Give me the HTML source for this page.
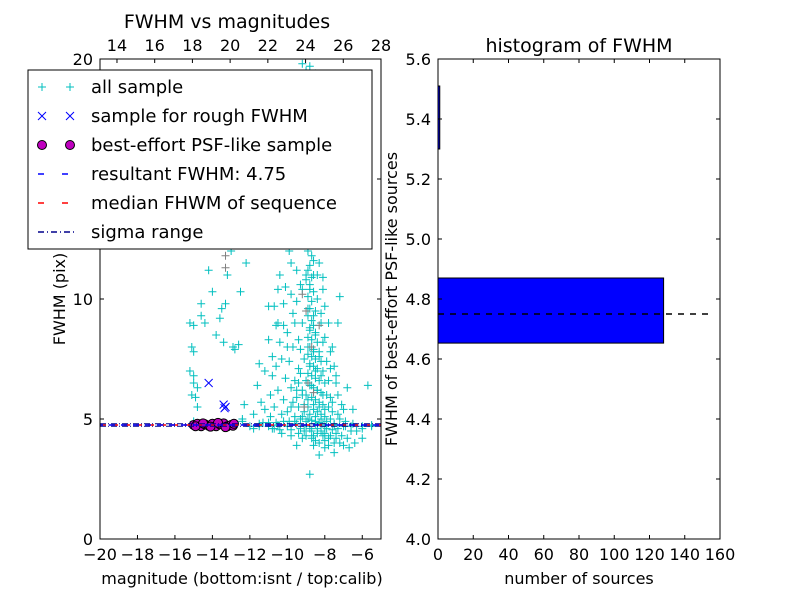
<!DOCTYPE html>
<html><head><meta charset="utf-8"><style>
body{margin:0;background:#fff;}
svg{display:block;font-family:"DejaVu Sans","Liberation Sans",sans-serif;}
</style></head><body>
<svg id="fig" width="800" height="600" viewBox="0 0 800 600" xmlns="http://www.w3.org/2000/svg">
<rect width="800" height="600" fill="#fff"/>
<g id="left"></g>
<g id="right"></g>
</svg>
<script>
// ---- data ----
const cyanPts = [
[-15.2,9.0],[-15.0,8.9],[-15.1,8.0],[-15.0,7.8],[-15.2,7.0],[-15.0,6.5],[-15.1,6.0],[-14.8,5.5],[-14.9,5.9],[-15.0,4.9],
[-14.6,9.3],[-14.2,11.2],[-14.0,10.3],[-13.8,8.5],[-13.5,9.6],[-13.4,8.2],[-13.2,11.0],[-13.0,12.0],[-12.8,7.9],[-12.5,10.3],
[-12.2,11.5],[-14.9,13.0],[-14.5,12.5],[-13.9,13.5],[-13.5,14.0],[-12.9,14.5],[-14.6,9.8],[-14.4,9.0],[-13.6,9.2],[-13.3,9.8],
[-12.9,8.0],[-12.6,8.1],[-12.3,5.6],[-12.4,5.0],[-14.8,6.3],[-15.0,6.8],
[-11.0,9.7],[-11.5,7.3],[-11.2,7.0],[-10.8,6.8],[-10.5,6.2],[-10.9,6.0],[-11.4,5.7],[-10.3,7.5],[-10.0,8.0],[-10.6,8.9],
[-10.2,9.8],[-9.8,10.2],[-10.4,11.0],[-9.9,12.0],[-9.6,13.5],[-9.3,14.5],[-9.0,15.5],[-8.8,16.5],[-9.2,17.0],[-8.6,18.0],
[-9.0,19.5],[-8.8,19.7],[-9.4,18.2],[-8.4,16.0],[-8.2,14.2],[-8.5,13.0],[-8.7,12.3],[-9.1,12.8],[-8.3,11.5],[-8.6,11.0],
[-9.0,10.8],[-8.8,10.4],[-8.4,10.0],[-8.9,9.6],[-8.6,9.3],[-8.2,9.0],[-9.2,9.0],[-8.8,8.7],[-8.5,8.5],[-8.1,8.2],
[-9.4,8.3],[-8.9,8.0],[-8.6,7.8],[-8.3,7.6],[-7.9,7.4],[-9.1,7.5],[-8.8,7.2],[-8.5,7.0],[-8.2,6.8],[-7.8,6.6],
[-9.3,6.9],[-9.0,6.6],[-8.7,6.4],[-8.4,6.2],[-8.1,6.0],[-7.7,5.9],[-9.5,6.2],[-9.2,6.0],[-8.9,5.8],[-8.6,5.6],
[-8.3,5.5],[-8.0,5.4],[-7.6,5.3],[-9.7,5.7],[-9.4,5.5],[-9.1,5.3],[-8.8,5.2],[-8.5,5.1],[-8.2,5.0],[-7.9,4.9],
[-7.5,4.8],[-10.0,5.3],[-9.6,5.1],[-9.3,5.0],[-9.0,4.9],[-8.7,4.5],[-8.4,4.4],[-8.1,4.3],[-7.8,4.2],[-7.4,4.4],
[-7.2,4.0],[-7.0,3.9],[-8.0,3.8],[-8.6,3.9],[-9.2,4.2],[-9.8,4.3],[-10.3,4.4],[-6.7,3.8],[-6.4,4.0],[-6.0,4.2],
[-7.5,3.6],[-8.3,3.5],[-8.8,2.7],[-9.5,3.9],[-7.1,5.6],[-6.8,6.3],[-6.5,5.4],[-7.3,9.0],[-7.2,10.1],[-6.0,4.6],
[-5.7,6.4],[-5.5,4.7],[-10.5,9.0],[-11.8,5.2],[-11.6,6.4],[-10.8,7.6],[-10.2,5.8],[-9.7,9.4],[-9.5,11.2],[-8.9,14.0],
[-8.7,13.6],[-9.3,10.6],[-8.1,10.9],[-8.0,9.7],[-7.6,8.0],[-7.7,7.1],[-7.4,6.5],[-7.3,5.2],[-6.9,4.7],[-6.6,4.5],
[-14.0,4.7],[-13.0,4.8],[-12.0,4.7],[-11.5,4.8],[-11.0,4.7],[-10.5,4.75],[-10.0,4.7],[-9.5,4.8],[-9.0,4.7],[-8.5,4.8],
[-8.0,4.7],[-7.5,4.75],[-7.0,4.7],[-6.5,4.8],[-6.0,4.7],[-5.5,4.75],[-11.8,4.6],[-11.3,4.85],[-10.7,4.6],[-12.4,4.9]
];
// dense ridge of the main cluster
const ridgePts = [
[-8.9,12.0],[-8.7,11.8],[-8.8,11.4],[-8.6,11.6],[-8.9,11.2],[-8.7,10.9],[-8.8,10.6],[-8.6,10.3],[-8.9,10.1],[-8.7,9.9],
[-8.8,9.6],[-8.5,9.5],[-8.9,9.3],[-8.7,9.1],[-8.6,8.9],[-8.8,8.8],[-8.5,8.6],[-8.9,8.4],[-8.7,8.3],[-8.4,8.2],
[-8.8,8.0],[-8.6,7.9],[-8.3,7.8],[-8.9,7.7],[-8.7,7.6],[-8.5,7.5],[-8.2,7.4],[-8.8,7.3],[-8.6,7.2],[-8.4,7.1],
[-8.1,7.0],[-8.9,6.9],[-8.7,6.8],[-8.5,6.7],[-8.3,6.6],[-8.0,6.5],[-8.8,6.4],[-8.6,6.3],[-8.4,6.2],[-8.2,6.1],
[-7.9,6.0],[-9.0,6.0],[-8.7,5.9],[-8.5,5.8],[-8.3,5.7],[-8.1,5.6],[-7.8,5.5],[-9.1,5.6],[-8.9,5.5],[-8.6,5.4],
[-8.4,5.3],[-8.2,5.2],[-8.0,5.1],[-7.7,5.0],[-9.2,5.1],[-8.9,5.0],[-8.7,4.95],[-8.5,4.9],[-8.3,4.85],[-8.1,4.8],
[-7.9,4.6],[-7.6,4.55],[-9.3,4.6],[-9.1,4.5],[-8.8,4.6],[-8.6,4.3],[-8.4,4.6],[-8.2,4.5],[-8.0,4.4],[-7.7,4.3],
[-7.4,4.2],[-9.4,4.4],[-9.0,4.3],[-8.7,4.2],[-8.5,4.1],[-8.3,4.0],[-8.0,4.1],[-7.8,3.9],[-7.5,4.0],[-7.3,4.6],
[-9.6,4.9],[-9.9,4.9],[-10.2,4.9],[-10.6,4.85],[-11.0,4.85],[-11.5,4.7],[-10.8,4.6],[-10.4,4.55],[-9.8,4.55],[-7.1,4.3],
[-6.8,4.2],[-6.9,4.9],[-6.6,4.7],[-6.3,4.5],[-7.2,5.0],[-7.0,5.4],[-7.6,5.7],[-7.3,6.0],[-9.3,7.9],[-9.4,7.1],
[-9.6,6.6],[-9.8,6.3],[-10.1,6.7],[-9.9,7.4],[-9.7,8.0],[-10.0,8.6],[-9.6,9.0],[-9.5,9.9],[-9.2,10.4],[-9.0,11.0],
[-9.3,12.3],[-8.9,13.0],[-9.1,13.4],[-8.8,13.2],[-9.2,15.0],[-9.0,14.8],[-8.7,15.2],[-8.9,16.0],[-9.3,16.4],[-8.6,17.0],
[-9.1,18.0],[-8.8,18.6],[-8.5,19.4],[-9.2,19.8],[-8.3,12.6],[-8.4,11.0],[-8.1,10.4],[-8.2,9.4],[-7.8,9.0],[-8.0,8.4],
[-7.7,7.8],[-7.5,7.2],[-7.4,6.8],[-9.4,6.5],[-9.2,6.2],[-9.5,5.9],[-9.8,5.5],[-10.3,5.2],[-10.7,5.5],[-10.9,5.1],
[-11.2,5.4],[-10.6,7.2],[-11.0,8.3],[-10.4,8.2],[-10.2,8.9],[-10.7,9.7],[-9.8,11.5],[-9.6,12.6],[-10.1,10.5],[-10.5,10.4]
];
const grayPts = [[-13.3,11.3],[-13.3,11.8],[-9.2,10.2],[-9.0,9.5],[-8.7,8.0],[-9.5,12.5],[-8.9,6.5],[-9.1,5.5],[-8.6,6.1],[-8.3,8.9]];
const bluePts = [[-14.2,6.5],[-13.4,5.6],[-13.3,5.5],[-13.35,5.45]];
const magentaPts = [[-15.0,4.75],[-14.8,4.8],[-14.6,4.7],[-14.4,4.78],[-14.2,4.72],[-14.0,4.8],[-13.8,4.7],[-13.6,4.78],[-13.4,4.82],[-13.2,4.7],[-13.0,4.75],[-12.9,4.72],[-14.9,4.7],[-14.5,4.82],[-14.1,4.68],[-13.7,4.84],[-13.3,4.66],[-12.85,4.8]];
const resultFWHM = 4.75;
const sigmaRange = [4.70, 4.80];
const histBins = [[4.653,4.87],[5.30,5.51]];
const histCounts = [128, 1];
const bottomTicks = [-20,-18,-16,-14,-12,-10,-8,-6];
const topTicks = [14,16,18,20,22,24,26,28];
const leftYTicks = [0,5,10,15,20];
const histXTicks = [0,20,40,60,80,100,120,140,160];
const histYTicks = [4.0,4.2,4.4,4.6,4.8,5.0,5.2,5.4,5.6];

const NS="http://www.w3.org/2000/svg";
function mk(parent,tag,attrs,text){const e=document.createElementNS(NS,tag);for(const k in attrs)e.setAttribute(k,attrs[k]);if(text!==undefined)e.textContent=text;parent.appendChild(e);return e;}

// ---- left axes ----
const L={x0:100,x1:381,y0:539,y1:59};
const lx=v=>L.x0+(v+20)/15*(L.x1-L.x0);
const tx=v=>L.x0+(v-13.1)/14.9*(L.x1-L.x0);
const ly=v=>L.y0-v/20*(L.y0-L.y1);
const lg=document.getElementById('left');
const cp=mk(lg,'clipPath',{id:'lclip'});mk(cp,'rect',{x:L.x0,y:L.y1,width:L.x1-L.x0,height:L.y0-L.y1});
const plotL=mk(lg,'g',{'clip-path':'url(#lclip)'});


function plus(g,x,y,c,name){const p=mk(g,'path',{d:`M${x-4},${y}h8M${x},${y-4}v8`,stroke:c,'stroke-width':1,fill:'none'});}
cyanPts.forEach(p=>plus(plotL,lx(p[0]),ly(p[1]),'#00bfbf','all-sample-point'));
ridgePts.forEach(p=>plus(plotL,lx(p[0]),ly(p[1]),'#00bfbf','all-sample-point'));
grayPts.forEach(p=>plus(plotL,lx(p[0]),ly(p[1]),'#808080','gray-sample-point'));
bluePts.forEach(p=>{const x=lx(p[0]),y=ly(p[1]);const e=mk(plotL,'path',{d:`M${x-4},${y-4}l8,8M${x-4},${y+4}l8,-8`,stroke:'#0000ff','stroke-width':1});});
magentaPts.forEach(p=>{const e=mk(plotL,'circle',{cx:lx(p[0]),cy:ly(p[1]),r:4.5,fill:'#bf00bf',stroke:'#000','stroke-width':1});});
let e;
e=mk(plotL,'line',{x1:L.x0,x2:L.x1,y1:ly(resultFWHM),y2:ly(resultFWHM),stroke:'#f00','stroke-width':1.5,'stroke-dasharray':'6,6'});
e=mk(plotL,'line',{x1:L.x0,x2:L.x1,y1:ly(resultFWHM),y2:ly(resultFWHM),stroke:'#00f','stroke-width':1.5,'stroke-dasharray':'6,6','stroke-dashoffset':3});
sigmaRange.forEach(v=>{const s=mk(plotL,'line',{x1:L.x0,x2:L.x1,y1:ly(v),y2:ly(v),stroke:'#00008b','stroke-dasharray':'6,2,1,2'});});
mk(lg,'rect',{x:L.x0,y:L.y1,width:L.x1-L.x0,height:L.y0-L.y1,fill:'none',stroke:'#000'});
bottomTicks.forEach(t=>{const x=lx(t);mk(lg,'line',{x1:x,x2:x,y1:L.y0,y2:L.y0-4,stroke:'#000'});const tt=mk(lg,'text',{x:x,y:L.y0+21,'font-size':16,'text-anchor':'middle'},(t<0?'\u2212'+(-t):t));});
topTicks.forEach(t=>{const x=tx(t);mk(lg,'line',{x1:x,x2:x,y1:L.y1,y2:L.y1+4,stroke:'#000'});const tt=mk(lg,'text',{x:x,y:L.y1-8,'font-size':16,'text-anchor':'middle'},t);});
leftYTicks.forEach(t=>{const y=ly(t);mk(lg,'line',{x1:L.x0,x2:L.x0+4,y1:y,y2:y,stroke:'#000'});mk(lg,'line',{x1:L.x1,x2:L.x1-4,y1:y,y2:y,stroke:'#000'});const tt=mk(lg,'text',{x:L.x0-7,y:y+6,'font-size':16,'text-anchor':'end'},t);});
e=mk(lg,'text',{x:242,y:584,'font-size':16,'text-anchor':'middle'},'magnitude (bottom:isnt / top:calib)');
e=mk(lg,'text',{x:227,y:28,'font-size':19,'text-anchor':'middle'},'FWHM vs magnitudes');
e=mk(lg,'text',{x:0,y:0,'font-size':16,'text-anchor':'middle',transform:'translate(65,299) rotate(-90)'},'FWHM (pix)');

// legend
const leg=mk(lg,'g',{});


mk(leg,'rect',{x:28,y:70,width:344,height:179,fill:'#fff',stroke:'#000'});
const labels=['all sample','sample for rough FWHM','best-effort PSF-like sample','resultant FWHM: 4.75','median FHWM of sequence','sigma range'];
labels.forEach((lab,i)=>{const y=87+i*29;const g=mk(leg,'g',{});
 [42,70].forEach(x=>{
  if(i==0)mk(g,'path',{d:`M${x-4},${y}h8M${x},${y-4}v8`,stroke:'#00bfbf'});
  if(i==1)mk(g,'path',{d:`M${x-4},${y-4}l8,8M${x-4},${y+4}l8,-8`,stroke:'#00f'});
  if(i==2)mk(g,'circle',{cx:x,cy:y,r:4.5,fill:'#bf00bf',stroke:'#000'});
 });
 if(i==3)mk(g,'line',{x1:38,x2:74,y1:y,y2:y,stroke:'#00f','stroke-width':1.5,'stroke-dasharray':'6,18'});
 if(i==4)mk(g,'line',{x1:38,x2:74,y1:y,y2:y,stroke:'#f00','stroke-width':1.5,'stroke-dasharray':'6,18'});
 if(i==5)mk(g,'line',{x1:38,x2:74,y1:y,y2:y,stroke:'#00008b','stroke-width':1.5,'stroke-dasharray':'6,3,1,3'});
 mk(g,'text',{x:91,y:y+6,'font-size':18},lab);
});

// ---- right axes ----
const R={x0:438,x1:720,y0:539,y1:59};
const rx=v=>R.x0+v/160*(R.x1-R.x0);
const ry=v=>R.y0-(v-4.0)/1.6*(R.y0-R.y1);
const rg=document.getElementById('right');
histBins.forEach((b,i)=>{const r=mk(rg,'rect',{x:rx(0),y:ry(b[1]),width:Math.max(rx(histCounts[i])-rx(0),1),height:ry(b[0])-ry(b[1]),fill:'#0000ff',stroke:'#000','stroke-width':1});});
e=mk(rg,'line',{x1:rx(0),x2:rx(155),y1:ry(resultFWHM),y2:ry(resultFWHM),stroke:'#000','stroke-width':1.5,'stroke-dasharray':'6,6'});
mk(rg,'rect',{x:R.x0,y:R.y1,width:R.x1-R.x0,height:R.y0-R.y1,fill:'none',stroke:'#000'});
histXTicks.forEach(t=>{const x=rx(t);mk(rg,'line',{x1:x,x2:x,y1:R.y0,y2:R.y0-4,stroke:'#000'});mk(rg,'line',{x1:x,x2:x,y1:R.y1,y2:R.y1+4,stroke:'#000'});const tt=mk(rg,'text',{x:x,y:R.y0+21,'font-size':16,'text-anchor':'middle'},t);});
histYTicks.forEach(t=>{const y=ry(t);mk(rg,'line',{x1:R.x0,x2:R.x0+4,y1:y,y2:y,stroke:'#000'});mk(rg,'line',{x1:R.x1,x2:R.x1-4,y1:y,y2:y,stroke:'#000'});const tt=mk(rg,'text',{x:R.x0-7,y:y+6,'font-size':16,'text-anchor':'end'},t.toFixed(1));});
e=mk(rg,'text',{x:579,y:584,'font-size':16,'text-anchor':'middle'},'number of sources');
e=mk(rg,'text',{x:579,y:52,'font-size':19,'text-anchor':'middle'},'histogram of FWHM');
e=mk(rg,'text',{x:0,y:0,'font-size':16,'text-anchor':'middle',transform:'translate(397,299) rotate(-90)'},'FWHM of best-effort PSF-like sources');
</script>
</body></html>
